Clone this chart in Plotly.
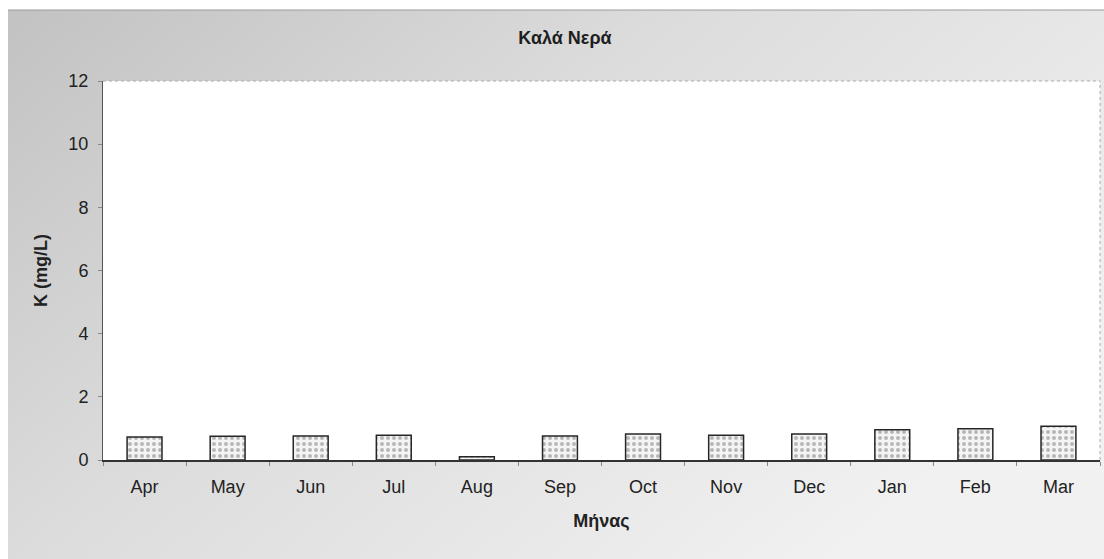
import plotly.graph_objects as go
import urllib.parse

months = ["Apr", "May", "Jun", "Jul", "Aug", "Sep", "Oct", "Nov", "Dec", "Jan", "Feb", "Mar"]
k_mg_l = [0.73, 0.75, 0.76, 0.78, 0.10, 0.76, 0.82, 0.78, 0.82, 0.96, 0.99, 1.07]
y_ticks = [0, 2, 4, 6, 8, 10, 12]

W, H = 1104, 559
ML, MR, MT, MB = 103, 4, 81, 99
pw, ph = W - ML - MR, H - MT - MB

fig = go.Figure(
    go.Bar(
        x=months,
        y=k_mg_l,
        width=0.42,
        marker=dict(
            color="white",
            line=dict(color="#262626", width=1.5),
            pattern=dict(shape=".", fgcolor="#7a7a7a", bgcolor="#f4f4f4", size=6, solidity=0.35),
        ),
    )
)

# grey gradient backdrop behind the chart frame
svg = (
    "<svg xmlns='http://www.w3.org/2000/svg' width='1096' height='549' preserveAspectRatio='none'>"
    "<defs><linearGradient id='g' x1='0' y1='0' x2='1' y2='0.6'>"
    "<stop offset='0' stop-color='#c2c2c2'/>"
    "<stop offset='0.45' stop-color='#dcdcdc'/>"
    "<stop offset='1' stop-color='#f1f1f1'/>"
    "</linearGradient></defs>"
    "<rect width='1096' height='549' fill='url(#g)'/></svg>"
)
src = "data:image/svg+xml;charset=utf-8," + urllib.parse.quote(svg)
fx0 = (8 - ML) / pw
fy1 = (H - MB - 10) / ph  # top edge of frame in paper units
fig.add_layout_image(
    dict(source=src, xref="paper", yref="paper", x=fx0, y=fy1,
         sizex=(W - 8) / pw, sizey=(H - 10) / ph, sizing="stretch",
         xanchor="left", yanchor="top", layer="below")
)
# white plotting area over the backdrop
fig.add_shape(type="rect", xref="paper", yref="paper", x0=0, x1=1, y0=0, y1=1,
              fillcolor="white", line=dict(width=0), layer="below")
# thin frame line along the top
fig.add_shape(type="line", xref="paper", yref="paper", x0=fx0, x1=(W - ML) / pw,
              y0=fy1, y1=fy1, line=dict(color="#9a9a9a", width=1))

fig.update_layout(
    width=W, height=H,
    margin=dict(l=ML, r=MR, t=MT, b=MB),
    paper_bgcolor="white",
    plot_bgcolor="white",
    showlegend=False,
    title=dict(text="<b>Καλά Νερά</b>", x=565 / W, xanchor="center", y=1 - 38 / H, yanchor="middle",
               font=dict(family="Liberation Sans, Arial", size=18, color="#1e1e1e")),
    font=dict(family="Liberation Sans, Arial", size=19, color="#222"),
)
fig.update_xaxes(
    title=dict(text="<b>Μήνας</b>", font=dict(size=18), standoff=18),
    showline=True, linecolor="#333", linewidth=1.5, mirror=False,
    ticks="outside", ticklen=4, tickcolor="#888", tickson="boundaries",
    ticklabelstandoff=10,
    showgrid=False, tickfont=dict(size=18),
)
fig.update_yaxes(
    title=dict(text="<b>K (mg/L)</b>", font=dict(size=18), standoff=16),
    range=[0, 12], tickvals=y_ticks, showgrid=False, zeroline=False,
    showline=True, linecolor="#555", linewidth=1, ticks="outside", ticklen=4, tickcolor="#888",
    ticklabelstandoff=6,
    tickfont=dict(size=18),
)
# dotted border on top and right of plot area
fig.add_shape(type="line", xref="paper", yref="paper", x0=0, x1=1, y0=1, y1=1,
              line=dict(color="#aaaaaa", width=1, dash="dot"))
fig.add_shape(type="line", xref="paper", yref="paper", x0=1, x1=1, y0=0, y1=1,
              line=dict(color="#aaaaaa", width=1, dash="dot"))

fig.write_html("out.html")
